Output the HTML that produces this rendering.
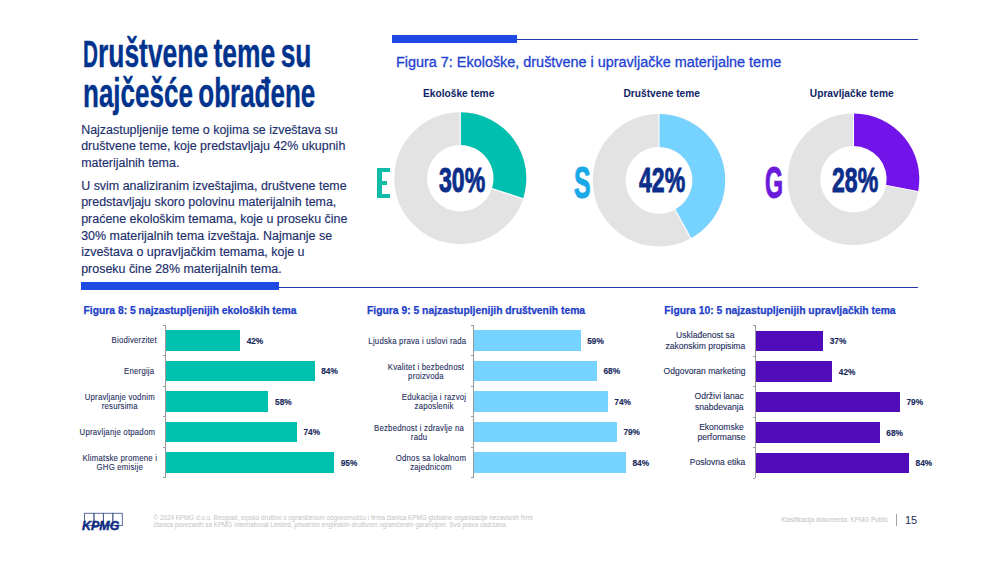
<!DOCTYPE html>
<html><head><meta charset="utf-8"><style>
html,body{margin:0;padding:0;background:#fff;}
body{width:1000px;height:562px;position:relative;overflow:hidden;font-family:"Liberation Sans",sans-serif;}
.t{position:absolute;white-space:nowrap;}
.r{position:absolute;}
</style></head><body>
<div class="t" style="left:82.80px;top:30.21px;font-size:41.2px;line-height:46.020px;color:#00338D;font-weight:bold;transform:scaleX(0.6415);transform-origin:0 0;-webkit-text-stroke:0.4px #00338D;word-spacing:-3px;"><span style="display:inline-block;font-size:37.6px;transform:scaleX(0.86);transform-origin:0 100%;margin-right:-3.8px">D</span>ruštvene teme su</div>
<div class="t" style="left:82.80px;top:69.61px;font-size:41.2px;line-height:46.020px;color:#00338D;font-weight:bold;transform:scaleX(0.6315);transform-origin:0 0;-webkit-text-stroke:0.4px #00338D;word-spacing:-3px;">najčešće obrađene</div>
<div class="t" style="left:81.20px;top:123.63px;font-size:12.45px;line-height:13.907px;color:#1B2E6C;font-weight:normal;-webkit-text-stroke:0.15px #1B2E6C;">Najzastupljenije teme o kojima se izveštava su</div>
<div class="t" style="left:81.20px;top:140.23px;font-size:12.45px;line-height:13.907px;color:#1B2E6C;font-weight:normal;-webkit-text-stroke:0.15px #1B2E6C;">društvene teme, koje predstavljaju 42% ukupnih</div>
<div class="t" style="left:81.20px;top:156.93px;font-size:12.45px;line-height:13.907px;color:#1B2E6C;font-weight:normal;-webkit-text-stroke:0.15px #1B2E6C;">materijalnih tema.</div>
<div class="t" style="left:81.20px;top:179.73px;font-size:12.45px;line-height:13.907px;color:#1B2E6C;font-weight:normal;-webkit-text-stroke:0.15px #1B2E6C;">U svim analiziranim izveštajima, društvene teme</div>
<div class="t" style="left:81.20px;top:196.43px;font-size:12.45px;line-height:13.907px;color:#1B2E6C;font-weight:normal;-webkit-text-stroke:0.15px #1B2E6C;">predstavljaju skoro polovinu materijalnih tema,</div>
<div class="t" style="left:81.20px;top:213.13px;font-size:12.45px;line-height:13.907px;color:#1B2E6C;font-weight:normal;-webkit-text-stroke:0.15px #1B2E6C;">praćene ekološkim temama, koje u proseku čine</div>
<div class="t" style="left:81.20px;top:229.73px;font-size:12.45px;line-height:13.907px;color:#1B2E6C;font-weight:normal;-webkit-text-stroke:0.15px #1B2E6C;">30% materijalnih tema izveštaja. Najmanje se</div>
<div class="t" style="left:81.20px;top:246.33px;font-size:12.45px;line-height:13.907px;color:#1B2E6C;font-weight:normal;-webkit-text-stroke:0.15px #1B2E6C;">izveštava o upravljačkim temama, koje u</div>
<div class="t" style="left:81.20px;top:262.93px;font-size:12.45px;line-height:13.907px;color:#1B2E6C;font-weight:normal;-webkit-text-stroke:0.15px #1B2E6C;">proseku čine 28% materijalnih tema.</div>
<div class="r" style="left:392.40px;top:35.00px;width:124.60px;height:7.60px;background:#1E49E2;"></div>
<div class="r" style="left:517.00px;top:38.90px;width:401.00px;height:1.60px;background:#2238A6;"></div>
<div class="r" style="left:81.00px;top:282.40px;width:198.00px;height:7.60px;background:#1E49E2;"></div>
<div class="r" style="left:279.00px;top:286.80px;width:639.00px;height:1.60px;background:#2238A6;"></div>
<div class="t" style="left:396.00px;top:53.55px;font-size:14.42px;line-height:16.107px;color:#1E42D0;font-weight:normal;-webkit-text-stroke:0.3px #1E42D0;">Figura 7: Ekološke, društvene i upravljačke materijalne teme</div>
<div class="t" style="left:423.00px;top:87.67px;font-size:10.2px;line-height:11.393px;color:#0E2466;font-weight:bold;">Ekološke teme</div>
<div class="t" style="left:623.50px;top:87.57px;font-size:10.2px;line-height:11.393px;color:#0E2466;font-weight:bold;">Društvene teme</div>
<div class="t" style="left:809.80px;top:87.57px;font-size:10.2px;line-height:11.393px;color:#0E2466;font-weight:bold;">Upravljačke teme</div>
<svg class="r" style="left:0;top:0" width="1000" height="562" viewBox="0 0 1000 562"><circle cx="460.3" cy="178.2" r="49.6" fill="none" stroke="#E3E3E3" stroke-width="32.8"/><path d="M460.30,112.20 A66.0,66.0 0 0 1 523.07,198.60 L491.88,188.46 A33.2,33.2 0 0 0 460.30,145.00 Z" fill="#00BFAE"/><line x1="460.3" y1="111.19999999999999" x2="460.3" y2="146.0" stroke="#fff" stroke-width="1.1"/><line x1="524.02" y1="198.90" x2="490.92" y2="188.15" stroke="#fff" stroke-width="1.1"/><circle cx="659.0" cy="180.3" r="49.8" fill="none" stroke="#E3E3E3" stroke-width="32.800000000000004"/><path d="M659.00,114.10 A66.2,66.2 0 0 1 690.89,238.31 L675.09,209.57 A33.4,33.4 0 0 0 659.00,146.90 Z" fill="#76D2FF"/><line x1="659.0" y1="113.10000000000001" x2="659.0" y2="147.9" stroke="#fff" stroke-width="1.1"/><line x1="691.37" y1="239.19" x2="674.61" y2="208.69" stroke="#fff" stroke-width="1.1"/><circle cx="853.5" cy="179.2" r="49.5" fill="none" stroke="#E3E3E3" stroke-width="32.599999999999994"/><path d="M853.50,113.40 A65.8,65.8 0 0 1 918.13,191.53 L886.11,185.42 A33.2,33.2 0 0 0 853.50,146.00 Z" fill="#7213EA"/><line x1="853.5" y1="112.39999999999999" x2="853.5" y2="147.0" stroke="#fff" stroke-width="1.1"/><line x1="919.12" y1="191.72" x2="885.13" y2="185.23" stroke="#fff" stroke-width="1.1"/></svg>
<div class="t" style="left:438.80px;top:161.20px;font-size:34.7px;line-height:38.760px;color:#0B2E8A;font-weight:bold;transform:scaleX(0.665);transform-origin:0 0;-webkit-text-stroke:0.9px #0B2E8A;">30%</div>
<div class="t" style="left:639.40px;top:161.40px;font-size:34.7px;line-height:38.760px;color:#0B2E8A;font-weight:bold;transform:scaleX(0.665);transform-origin:0 0;-webkit-text-stroke:0.9px #0B2E8A;">42%</div>
<div class="t" style="left:832.30px;top:161.20px;font-size:34.7px;line-height:38.760px;color:#0B2E8A;font-weight:bold;transform:scaleX(0.665);transform-origin:0 0;-webkit-text-stroke:0.9px #0B2E8A;">28%</div>
<div class="r" style="left:376.60px;top:167.50px;width:5.00px;height:30.90px;background:#10BBA8;"></div>
<div class="r" style="left:376.60px;top:167.50px;width:13.00px;height:4.40px;background:#10BBA8;"></div>
<div class="r" style="left:376.60px;top:180.80px;width:10.70px;height:4.00px;background:#10BBA8;"></div>
<div class="r" style="left:376.60px;top:194.40px;width:13.20px;height:4.00px;background:#10BBA8;"></div>
<div class="t" style="left:574.00px;top:158.23px;font-size:44.5px;line-height:49.706px;color:#1AA8E6;font-weight:bold;transform:scaleX(0.56);transform-origin:0 0;-webkit-text-stroke:1.1px #1AA8E6;">S</div>
<div class="t" style="left:764.80px;top:157.73px;font-size:44.5px;line-height:49.706px;color:#6A1ADB;font-weight:bold;transform:scaleX(0.52);transform-origin:0 0;-webkit-text-stroke:1.1px #6A1ADB;">G</div>
<div class="t" style="left:83.50px;top:305.25px;font-size:10.33px;line-height:11.539px;color:#1E40C8;font-weight:bold;-webkit-text-stroke:0.25px #1E40C8;">Figura 8: 5 najzastupljenijih ekoloških tema</div>
<div class="t" style="left:367.00px;top:305.25px;font-size:10.33px;line-height:11.539px;color:#1E40C8;font-weight:bold;-webkit-text-stroke:0.25px #1E40C8;">Figura 9: 5 najzastupljenijih društvenih tema</div>
<div class="t" style="left:664.30px;top:305.25px;font-size:10.33px;line-height:11.539px;color:#1E40C8;font-weight:bold;-webkit-text-stroke:0.25px #1E40C8;">Figura 10: 5 najzastupljenijih upravljačkih tema</div>
<div class="r" style="left:164.50px;top:325.00px;width:1.00px;height:153.20px;background:#9A9A9A;"></div>
<div class="r" style="left:162.70px;top:325.05px;width:2.30px;height:0.90px;background:#9A9A9A;"></div>
<div class="r" style="left:162.70px;top:355.49px;width:2.30px;height:0.90px;background:#9A9A9A;"></div>
<div class="r" style="left:162.70px;top:385.93px;width:2.30px;height:0.90px;background:#9A9A9A;"></div>
<div class="r" style="left:162.70px;top:416.37px;width:2.30px;height:0.90px;background:#9A9A9A;"></div>
<div class="r" style="left:162.70px;top:446.81px;width:2.30px;height:0.90px;background:#9A9A9A;"></div>
<div class="r" style="left:162.70px;top:477.25px;width:2.30px;height:0.90px;background:#9A9A9A;"></div>
<div class="r" style="left:165.50px;top:330.10px;width:74.55px;height:20.90px;background:#00C0AE;"></div>
<div class="t" style="left:246.65px;top:336.64px;font-size:8.3px;line-height:9.271px;color:#1A2A5E;font-weight:bold;-webkit-text-stroke:0.15px #1A2A5E;">42%</div>
<div class="t" style="right:843.10px;top:336.45px;font-size:9.1px;line-height:9.3px;color:#1F3060;text-align:center;white-space:nowrap;letter-spacing:0.25px;transform:scaleX(0.857);transform-origin:100% 0;-webkit-text-stroke:0.12px #1F3060;">Biodiverzitet</div>
<div class="r" style="left:165.50px;top:360.60px;width:149.10px;height:20.90px;background:#00C0AE;"></div>
<div class="t" style="left:321.20px;top:367.14px;font-size:8.3px;line-height:9.271px;color:#1A2A5E;font-weight:bold;-webkit-text-stroke:0.15px #1A2A5E;">84%</div>
<div class="t" style="right:845.50px;top:366.95px;font-size:9.1px;line-height:9.3px;color:#1F3060;text-align:center;white-space:nowrap;letter-spacing:0.25px;transform:scaleX(0.857);transform-origin:100% 0;-webkit-text-stroke:0.12px #1F3060;">Energija</div>
<div class="r" style="left:165.50px;top:391.10px;width:102.95px;height:20.90px;background:#00C0AE;"></div>
<div class="t" style="left:275.05px;top:397.64px;font-size:8.3px;line-height:9.271px;color:#1A2A5E;font-weight:bold;-webkit-text-stroke:0.15px #1A2A5E;">58%</div>
<div class="t" style="right:845.10px;top:392.80px;font-size:9.1px;line-height:9.3px;color:#1F3060;text-align:center;white-space:nowrap;letter-spacing:0.25px;transform:scaleX(0.857);transform-origin:100% 0;-webkit-text-stroke:0.12px #1F3060;">Upravljanje vodnim<br>resursima</div>
<div class="r" style="left:165.50px;top:421.60px;width:131.35px;height:20.90px;background:#00C0AE;"></div>
<div class="t" style="left:303.45px;top:428.14px;font-size:8.3px;line-height:9.271px;color:#1A2A5E;font-weight:bold;-webkit-text-stroke:0.15px #1A2A5E;">74%</div>
<div class="t" style="right:845.10px;top:427.95px;font-size:9.1px;line-height:9.3px;color:#1F3060;text-align:center;white-space:nowrap;letter-spacing:0.25px;transform:scaleX(0.857);transform-origin:100% 0;-webkit-text-stroke:0.12px #1F3060;">Upravljanje otpadom</div>
<div class="r" style="left:165.50px;top:452.10px;width:168.62px;height:20.90px;background:#00C0AE;"></div>
<div class="t" style="left:340.73px;top:458.64px;font-size:8.3px;line-height:9.271px;color:#1A2A5E;font-weight:bold;-webkit-text-stroke:0.15px #1A2A5E;">95%</div>
<div class="t" style="right:842.60px;top:453.80px;font-size:9.1px;line-height:9.3px;color:#1F3060;text-align:center;white-space:nowrap;letter-spacing:0.25px;transform:scaleX(0.857);transform-origin:100% 0;-webkit-text-stroke:0.12px #1F3060;">Klimatske promene i<br>GHG emisije</div>
<div class="r" style="left:472.80px;top:325.00px;width:1.00px;height:153.20px;background:#9A9A9A;"></div>
<div class="r" style="left:471.00px;top:325.05px;width:2.30px;height:0.90px;background:#9A9A9A;"></div>
<div class="r" style="left:471.00px;top:355.49px;width:2.30px;height:0.90px;background:#9A9A9A;"></div>
<div class="r" style="left:471.00px;top:385.93px;width:2.30px;height:0.90px;background:#9A9A9A;"></div>
<div class="r" style="left:471.00px;top:416.37px;width:2.30px;height:0.90px;background:#9A9A9A;"></div>
<div class="r" style="left:471.00px;top:446.81px;width:2.30px;height:0.90px;background:#9A9A9A;"></div>
<div class="r" style="left:471.00px;top:477.25px;width:2.30px;height:0.90px;background:#9A9A9A;"></div>
<div class="r" style="left:473.80px;top:330.10px;width:106.79px;height:20.90px;background:#76D2FF;"></div>
<div class="t" style="left:587.19px;top:336.64px;font-size:8.3px;line-height:9.271px;color:#1A2A5E;font-weight:bold;-webkit-text-stroke:0.15px #1A2A5E;">59%</div>
<div class="t" style="right:533.50px;top:336.65px;font-size:9.1px;line-height:9.3px;color:#1F3060;text-align:center;white-space:nowrap;letter-spacing:0.25px;transform:scaleX(0.857);transform-origin:100% 0;-webkit-text-stroke:0.12px #1F3060;">Ljudska prava i uslovi rada</div>
<div class="r" style="left:473.80px;top:360.60px;width:123.08px;height:20.90px;background:#76D2FF;"></div>
<div class="t" style="left:603.48px;top:367.14px;font-size:8.3px;line-height:9.271px;color:#1A2A5E;font-weight:bold;-webkit-text-stroke:0.15px #1A2A5E;">68%</div>
<div class="t" style="right:536.30px;top:362.50px;font-size:9.1px;line-height:9.3px;color:#1F3060;text-align:center;white-space:nowrap;letter-spacing:0.25px;transform:scaleX(0.857);transform-origin:100% 0;-webkit-text-stroke:0.12px #1F3060;">Kvalitet i bezbednost<br>proizvoda</div>
<div class="r" style="left:473.80px;top:391.10px;width:133.94px;height:20.90px;background:#76D2FF;"></div>
<div class="t" style="left:614.34px;top:397.64px;font-size:8.3px;line-height:9.271px;color:#1A2A5E;font-weight:bold;-webkit-text-stroke:0.15px #1A2A5E;">74%</div>
<div class="t" style="right:533.70px;top:393.00px;font-size:9.1px;line-height:9.3px;color:#1F3060;text-align:center;white-space:nowrap;letter-spacing:0.25px;transform:scaleX(0.857);transform-origin:100% 0;-webkit-text-stroke:0.12px #1F3060;">Edukacija i razvoj<br>zaposlenik</div>
<div class="r" style="left:473.80px;top:421.60px;width:142.99px;height:20.90px;background:#76D2FF;"></div>
<div class="t" style="left:623.39px;top:428.14px;font-size:8.3px;line-height:9.271px;color:#1A2A5E;font-weight:bold;-webkit-text-stroke:0.15px #1A2A5E;">79%</div>
<div class="t" style="right:536.30px;top:423.50px;font-size:9.1px;line-height:9.3px;color:#1F3060;text-align:center;white-space:nowrap;letter-spacing:0.25px;transform:scaleX(0.857);transform-origin:100% 0;-webkit-text-stroke:0.12px #1F3060;">Bezbednost i zdravlje na<br>radu</div>
<div class="r" style="left:473.80px;top:452.10px;width:152.04px;height:20.90px;background:#76D2FF;"></div>
<div class="t" style="left:632.44px;top:458.64px;font-size:8.3px;line-height:9.271px;color:#1A2A5E;font-weight:bold;-webkit-text-stroke:0.15px #1A2A5E;">84%</div>
<div class="t" style="right:533.70px;top:454.00px;font-size:9.1px;line-height:9.3px;color:#1F3060;text-align:center;white-space:nowrap;letter-spacing:0.25px;transform:scaleX(0.857);transform-origin:100% 0;-webkit-text-stroke:0.12px #1F3060;">Odnos sa lokalnom<br>zajednicom</div>
<div class="r" style="left:754.50px;top:325.30px;width:1.00px;height:153.20px;background:#9A9A9A;"></div>
<div class="r" style="left:752.70px;top:325.35px;width:2.30px;height:0.90px;background:#9A9A9A;"></div>
<div class="r" style="left:752.70px;top:355.79px;width:2.30px;height:0.90px;background:#9A9A9A;"></div>
<div class="r" style="left:752.70px;top:386.23px;width:2.30px;height:0.90px;background:#9A9A9A;"></div>
<div class="r" style="left:752.70px;top:416.67px;width:2.30px;height:0.90px;background:#9A9A9A;"></div>
<div class="r" style="left:752.70px;top:447.11px;width:2.30px;height:0.90px;background:#9A9A9A;"></div>
<div class="r" style="left:752.70px;top:477.55px;width:2.30px;height:0.90px;background:#9A9A9A;"></div>
<div class="r" style="left:755.50px;top:330.60px;width:67.60px;height:20.90px;background:#500CB9;"></div>
<div class="t" style="left:829.70px;top:337.14px;font-size:8.3px;line-height:9.271px;color:#1A2A5E;font-weight:bold;-webkit-text-stroke:0.15px #1A2A5E;">37%</div>
<div class="t" style="right:255.20px;top:330.00px;font-size:8.8px;line-height:10.9px;color:#1F3060;text-align:center;white-space:nowrap;letter-spacing:0.0px;transform:scaleX(0.97);transform-origin:100% 0;-webkit-text-stroke:0.12px #1F3060;">Usklađenost sa<br>zakonskim propisima</div>
<div class="r" style="left:755.50px;top:361.10px;width:76.73px;height:20.90px;background:#500CB9;"></div>
<div class="t" style="left:838.83px;top:367.64px;font-size:8.3px;line-height:9.271px;color:#1A2A5E;font-weight:bold;-webkit-text-stroke:0.15px #1A2A5E;">42%</div>
<div class="t" style="right:254.20px;top:365.95px;font-size:8.8px;line-height:10.9px;color:#1F3060;text-align:center;white-space:nowrap;letter-spacing:0.0px;transform:scaleX(0.97);transform-origin:100% 0;-webkit-text-stroke:0.12px #1F3060;">Odgovoran marketing</div>
<div class="r" style="left:755.50px;top:391.60px;width:144.33px;height:20.90px;background:#500CB9;"></div>
<div class="t" style="left:906.43px;top:398.14px;font-size:8.3px;line-height:9.271px;color:#1A2A5E;font-weight:bold;-webkit-text-stroke:0.15px #1A2A5E;">79%</div>
<div class="t" style="right:256.10px;top:391.00px;font-size:8.8px;line-height:10.9px;color:#1F3060;text-align:center;white-space:nowrap;letter-spacing:0.0px;transform:scaleX(0.97);transform-origin:100% 0;-webkit-text-stroke:0.12px #1F3060;">Održivi lanac<br>snabdevanja</div>
<div class="r" style="left:755.50px;top:422.10px;width:124.24px;height:20.90px;background:#500CB9;"></div>
<div class="t" style="left:886.34px;top:428.64px;font-size:8.3px;line-height:9.271px;color:#1A2A5E;font-weight:bold;-webkit-text-stroke:0.15px #1A2A5E;">68%</div>
<div class="t" style="right:255.00px;top:421.50px;font-size:8.8px;line-height:10.9px;color:#1F3060;text-align:center;white-space:nowrap;letter-spacing:0.0px;transform:scaleX(0.97);transform-origin:100% 0;-webkit-text-stroke:0.12px #1F3060;">Ekonomske<br>performanse</div>
<div class="r" style="left:755.50px;top:452.60px;width:153.47px;height:20.90px;background:#500CB9;"></div>
<div class="t" style="left:915.57px;top:459.14px;font-size:8.3px;line-height:9.271px;color:#1A2A5E;font-weight:bold;-webkit-text-stroke:0.15px #1A2A5E;">84%</div>
<div class="t" style="right:255.00px;top:457.45px;font-size:8.8px;line-height:10.9px;color:#1F3060;text-align:center;white-space:nowrap;letter-spacing:0.0px;transform:scaleX(0.97);transform-origin:100% 0;-webkit-text-stroke:0.12px #1F3060;">Poslovna etika</div>
<div class="t" style="left:153.50px;top:513.80px;font-size:6.3px;line-height:7.037px;color:#C2C2C2;font-weight:normal;">© 2024 KPMG d.o.o. Beograd, srpsko društvo s ograničenom odgovornošću i firma članica KPMG globalne organizacije nezavisnih firmi</div>
<div class="t" style="left:153.50px;top:521.30px;font-size:6.3px;line-height:7.037px;color:#C2C2C2;font-weight:normal;">članica povezanih sa KPMG International Limited, privatnim engleskim društvom ograničenim garancijom. Sva prava zadržana.</div>
<div class="t" style="left:781.30px;top:516.30px;font-size:6.3px;line-height:7.037px;color:#C0C0C0;font-weight:normal;">Klasifikacija dokumenta: KPMG Public</div>
<div class="r" style="left:895.80px;top:513.70px;width:1.00px;height:12.10px;background:#9AA0AC;"></div>
<div class="t" style="left:905.00px;top:513.75px;font-size:11px;line-height:12.287px;color:#1E2D5C;font-weight:normal;">15</div>
<svg class="r" style="left:0;top:0" width="1000" height="562" viewBox="0 0 1000 562"><rect x="84.50" y="513.3" width="9.45" height="12.3" fill="none" stroke="#4A5A8E" stroke-width="0.9"/><rect x="93.95" y="513.3" width="9.45" height="12.3" fill="none" stroke="#4A5A8E" stroke-width="0.9"/><rect x="103.40" y="513.3" width="9.45" height="12.3" fill="none" stroke="#4A5A8E" stroke-width="0.9"/><rect x="112.85" y="513.3" width="9.45" height="12.3" fill="none" stroke="#4A5A8E" stroke-width="0.9"/></svg>
<div class="t" style="left:82.00px;top:518.84px;font-size:13.0px;line-height:14.521px;color:#0C2D83;font-weight:bold;transform:scaleX(0.96);transform-origin:0 0;font-style:italic;-webkit-text-stroke:0.45px #0C2D83;">KPMG</div>
</body></html>
